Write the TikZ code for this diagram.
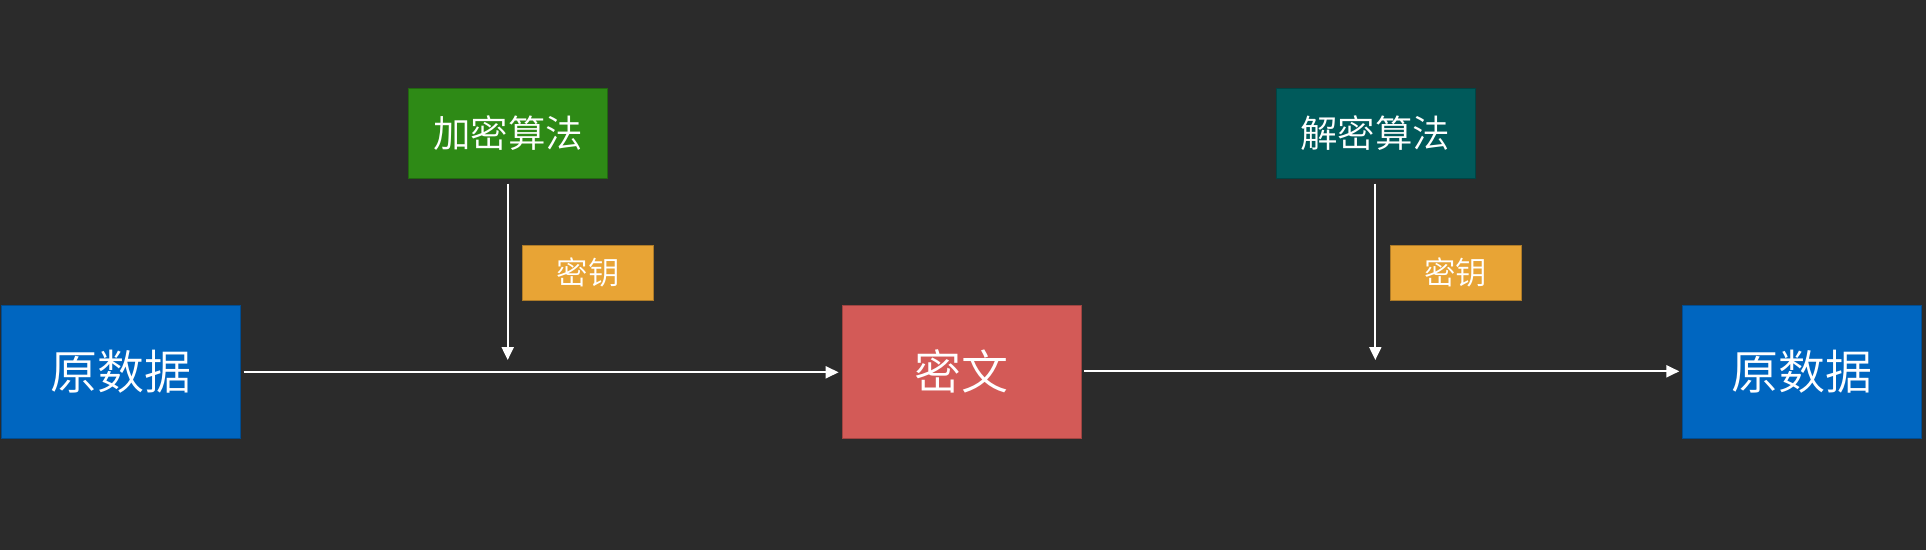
\documentclass[tikz,border=0pt]{standalone}
\usepackage{fontspec}
\usepackage{xcolor}
\usepackage{tikz}
\usetikzlibrary{arrows.meta}
\newfontfamily\cjk{Noto Sans CJK SC DemiLight}
\definecolor{bgdark}{HTML}{2B2B2B}
\definecolor{rawblue}{HTML}{0066C0}
\definecolor{encgreen}{HTML}{2E8A16}
\definecolor{decteal}{HTML}{005A5B}
\definecolor{keyorange}{HTML}{E8A435}
\definecolor{cipherred}{HTML}{D35A57}
\tikzset{
    box/.style={draw=#1!75!black, fill=#1, line width=0.8pt, inner sep=0pt, text=white},
    bigbox/.style={box=#1, minimum width=239pt, minimum height=133pt, font=\cjk\fontsize{47}{50}\selectfont},
    algbox/.style={box=#1, minimum width=199pt, minimum height=90pt, font=\cjk\fontsize{37.5}{40}\selectfont},
    keybox/.style={box=keyorange, minimum width=131pt, minimum height=55pt, font=\cjk\fontsize{31.5}{34}\selectfont},
    flow/.style={draw=white, line width=2pt, -{Triangle[length=13pt,width=12pt]}}
}

\begin{document}
\begin{tikzpicture}[x=1pt, y=-1pt]
            \fill[bgdark] (0,0) rectangle (1926,550);
            \useasboundingbox (0,0) rectangle (1926,550);

            \node[bigbox=rawblue] (raw1) at (120.7,371.5) {原数据};
            \node[bigbox=cipherred] (cipher) at (961.5,371.5) {密文};
            \node[bigbox=rawblue] (raw2) at (1802.2,371.5) {原数据};

            \node[algbox=encgreen] (enc) at (508,133.3) {加密算法};
            \node[algbox=decteal] (dec) at (1375.4,133.3) {解密算法};

            \node[keybox] (key1) at (588,272.5) {密钥};
            \node[keybox] (key2) at (1455.5,272.5) {密钥};

            \coordinate (in1) at (507.7,360);
            \coordinate (in2) at (1375.3,360);

            \draw[flow, shorten <=5pt] (enc.south -| in1) -- (in1);
            \draw[flow, shorten <=5pt] (dec.south -| in2) -- (in2);
            \draw[flow, shorten <=3pt, shorten >=3pt] (raw1.east |- 0,372.3) -- (cipher.west |- 0,372.3);
            \draw[flow, shorten <=3pt, shorten >=3pt] (cipher.east |- 0,371.3) -- (raw2.west |- 0,371.3);
        \end{tikzpicture}
\end{document}
